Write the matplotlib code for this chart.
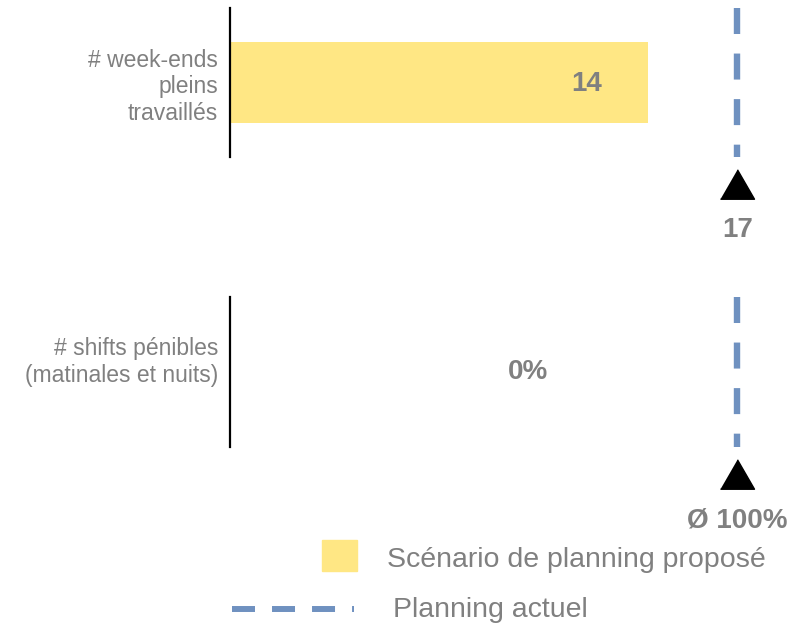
import matplotlib
matplotlib.use("Agg")
import matplotlib.pyplot as plt
from matplotlib.patches import Rectangle
from matplotlib.lines import Line2D

plt.rcParams['font.family'] = ['Liberation Sans', 'DejaVu Sans']

# données
categories = ["# week-ends\npleins\ntravaillés", "# shifts pénibles\n(matinales et nuits)"]
valeurs_proposees = [14, 0]
valeurs_actuelles = [17, 100]
etiquettes_proposees = ["14", "0%"]
etiquettes_actuelles = ["17", "Ø 100%"]
x_max = [18.76, 110.45]
legende = ["Scénario de planning proposé", "Planning actuel"]

JAUNE = '#FFE784'
BLEU = '#6F91C0'
GRIS = '#808080'
W, H = 808, 623

fig = plt.figure(figsize=(W / 100, H / 100), dpi=100)

def px(x, y):
    return x / W, 1 - y / H

# (haut, bas) de chaque panneau en pixels, position du libellé
panneaux = [(8, 157), (297, 447)]
pos_libelle = [0.5, 0.595]
triangle = [(-1, -0.866), (1, -0.866), (0, 0.866)]

for i, (haut, bas) in enumerate(panneaux):
    ax = fig.add_axes([230 / W, 1 - bas / H, 560 / W, (bas - haut) / H])
    ax.set_xlim(0, x_max[i])
    ax.set_ylim(0, 1)
    for s in ['top', 'right', 'bottom']:
        ax.spines[s].set_visible(False)
    ax.spines['left'].set_linewidth(1.6)
    ax.spines['left'].set_color('black')
    ax.set_xticks([])
    ax.set_yticks([pos_libelle[i]])
    ax.set_yticklabels([categories[i]], fontsize=16.5, color=GRIS)
    ax.tick_params(axis='y', length=0, pad=8.5)

    ax.barh(0.5, valeurs_proposees[i], height=0.55, color=JAUNE, zorder=1)
    if valeurs_proposees[i] > 0:
        ax.annotate(etiquettes_proposees[i], (valeurs_proposees[i], 0.443),
                    xytext=(-44, 0), textcoords='offset points',
                    ha='center', va='baseline', fontsize=20,
                    fontweight='bold', color=GRIS)
    else:
        ax.text(0.532, 0.453, etiquettes_proposees[i], transform=ax.transAxes,
                ha='center', va='baseline', fontsize=20,
                fontweight='bold', color=GRIS)

    # ligne de référence (planning actuel)
    tr = ax.get_xaxis_transform()
    ref = valeurs_actuelles[i]
    h = bas - haut
    ax.plot([ref, ref], [1, 0], transform=tr, color=BLEU, lw=4.6,
            linestyle=(0, (4.07, 3.06)), solid_capstyle='butt', clip_on=False)
    ax.plot([ref], [-26.5 / h], transform=tr,
            marker=triangle, markersize=24.5, color='black', clip_on=False)
    ax.text(ref, -80 / h, etiquettes_actuelles[i],
            transform=tr, ha='center', va='baseline', fontsize=20,
            fontweight='bold', color=GRIS, clip_on=False)

# légende
x0, y0 = px(322, 571)
fig.add_artist(Rectangle((x0, y0), 35 / W, 31 / H, transform=fig.transFigure,
                         color=JAUNE))
fig.text(*px(387, 567), legende[0], fontsize=20.5, color=GRIS, va='baseline')
xa, ya = px(232, 609)
xb, _ = px(354, 609)
fig.add_artist(Line2D([xa, xb], [ya, ya], transform=fig.transFigure,
                      color=BLEU, lw=4.3, linestyle=(0, (3.85, 2.85))))
fig.text(*px(393, 617), legende[1], fontsize=20.5, color=GRIS, va='baseline')

fig.savefig("out.png", dpi=100)
